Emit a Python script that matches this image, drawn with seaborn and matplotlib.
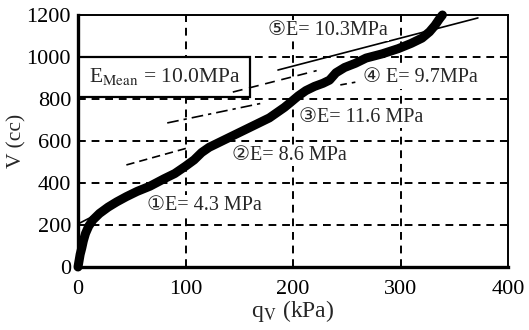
import matplotlib
matplotlib.use("Agg")
import matplotlib.pyplot as plt
import seaborn as sns
import pandas as pd

# measured curve q_V (kPa) vs V (cc)
curve_q = [0, 1, 2, 3.5, 5, 7, 10, 14, 20, 28, 36, 45, 55, 67, 80, 90, 100, 108,
           115, 122, 130, 140, 150, 160, 170, 178, 185, 192, 198, 205, 212, 220,
           228, 234, 240, 248, 258, 268, 283, 298, 310, 320, 327, 332, 336, 339]
curve_v = [0, 30, 60, 90, 125, 160, 195, 225, 255, 285, 310, 335, 360, 385, 420,
           445, 480, 510, 545, 570, 590, 615, 640, 665, 690, 710, 735, 760, 785,
           815, 840, 860, 875, 890, 925, 950, 970, 995, 1015, 1040, 1065, 1090,
           1120, 1150, 1180, 1200]

# fitted modulus lines (end points, data units)
fit_names = ["1", "2", "3", "4", "4b", "5"]
fit_q = [(0, 24), (45, 102), (83, 172), (144, 222), (244, 258), (186, 372)]
fit_v = [(205, 268), (486, 567), (686, 781), (833, 935), (867, 880), (938, 1186)]
fit_styles = ["-", (0, (5, 3)), (0, (7, 3, 2, 3)), (0, (6, 4)), (0, (4, 3)), "-"]

labels = ["\u2460E= 4.3 MPa", "\u2461E= 8.6 MPa", "\u2462E= 11.6 MPa",
          "\u2463 E= 9.7MPa", "\u2464E= 10.3MPa"]
label_q = [64, 143, 206, 265, 177]
label_v = [295, 533, 714, 900, 1128]

x_ticks = [0, 100, 200, 300, 400]
y_ticks = [0, 200, 400, 600, 800, 1000, 1200]

sns.set_style("white")
plt.rcParams["font.family"] = ["Liberation Serif", "DejaVu Serif", "DejaVu Sans"]
plt.rcParams["mathtext.fontset"] = "stix"

fig = plt.figure(figsize=(5.29, 3.30), dpi=100)
ax = fig.add_axes([78 / 529, 1 - 267 / 330, 430 / 529, 252 / 330])

# grid
for xv in x_ticks[1:-1]:
    ax.axvline(xv, color="black", lw=1.4, ls=(0, (4, 3)), zorder=1)
for yv in y_ticks[1:-1]:
    ax.axhline(yv, color="black", lw=1.4, ls=(0, (4, 3)), zorder=1)

df = pd.DataFrame({"q": curve_q, "v": curve_v})
sns.lineplot(data=df, x="q", y="v", sort=False, color="black", lw=6.5,
             ax=ax, zorder=4, clip_on=False, solid_capstyle="round",
             solid_joinstyle="round")

# mean box
ax.text(10, 905, r"E$_{\rm Mean}$ = 10.0MPa", fontsize=15.5, va="center", ha="left",
        zorder=3,
        bbox=dict(boxstyle="square,pad=0.45", fc="white", ec="black", lw=1.6))

for q, v, st in zip(fit_q, fit_v, fit_styles):
    sns.lineplot(x=list(q), y=list(v), color="black", lw=1.2, ax=ax,
                 linestyle=st, zorder=5)

for t, q, v in zip(labels, label_q, label_v):
    ax.text(q, v, t, fontsize=14.5, va="center", ha="left", zorder=6,
            bbox=dict(boxstyle="square,pad=0.05", fc="white", ec="none"))

ax.set_xlim(0, 400)
ax.set_ylim(0, 1200)
ax.set_xticks(x_ticks)
ax.set_yticks(y_ticks)
ax.tick_params(labelsize=16, length=3, width=1.2, direction="in", pad=5,
               colors="black")
ax.tick_params(axis="x", pad=9)
ax.set_xlabel(r"q$_{\rm V}$ (kPa)", fontsize=17, labelpad=0)
ax.set_ylabel("V (cc)", fontsize=15.5, labelpad=0)
for s in ["left", "bottom"]:
    ax.spines[s].set_linewidth(2.4)
for s in ["top", "right"]:
    ax.spines[s].set_linewidth(1.4)
for s in ax.spines.values():
    s.set_color("black")
if ax.get_legend():
    ax.get_legend().remove()

fig.savefig("out.png", dpi=100)
